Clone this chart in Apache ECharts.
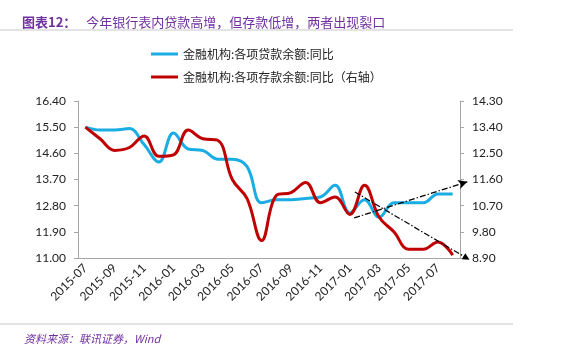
<!DOCTYPE html>
<html>
<head>
<meta charset="utf-8">
<script src="https://cdn.jsdelivr.net/npm/echarts@6/dist/echarts.min.js"></script>
<style>
html, body { margin: 0; padding: 0; background: #fff; }
#main { width: 568px; height: 354px; }
</style>
</head>
<body>
<div id="main"></div>
<script>
var months = ['2015-07','2015-08','2015-09','2015-10','2015-11','2015-12',
  '2016-01','2016-02','2016-03','2016-04','2016-05','2016-06','2016-07','2016-08',
  '2016-09','2016-10','2016-11','2016-12','2017-01','2017-02','2017-03','2017-04',
  '2017-05','2017-06','2017-07','2017-08'];

// 金融机构:各项贷款余额:同比 (left axis)
var loanYoY = [15.5, 15.4, 15.4, 15.45, 14.9, 14.3, 15.3, 14.75, 14.7, 14.4, 14.4, 14.15,
  12.9, 13.0, 13.0, 13.05, 13.1, 13.5, 12.55, 13.0, 12.4, 12.9, 12.9, 12.9, 13.2, 13.2];

// 金融机构:各项存款余额:同比 (right axis)
var depositYoY = [13.4, 13.0, 12.6, 12.7, 13.1, 12.4, 12.45, 13.3, 13.0, 12.95, 11.6, 10.95,
  9.5, 11.05, 11.15, 11.5, 10.8, 11.0, 10.4, 11.4, 10.3, 9.8, 9.2, 9.2, 9.45, 9.0];

var leftTicks = { min: 11.0, max: 16.4, step: 0.9 };
var rightTicks = { min: 8.9, max: 14.3, step: 0.9 };

// hand-drawn trend arrows: [month position from left edge, left-axis value]
var upTrend = [[18.8, 12.38], [26.5, 13.62]];
var downTrend = [[18.85, 13.27], [26.45, 11.0]];

var seriesNames = ['金融机构:各项贷款余额:同比', '金融机构:各项存款余额:同比（右轴）'];

var numFont = 'Lato, "Liberation Sans", sans-serif';
var cjkFont = '"Noto Sans CJK SC", sans-serif';
var purple = '#7030A0';
var axisGray = '#A6A6A6';

var chart = echarts.init(document.getElementById('main'));

chart.setOption({
  backgroundColor: '#fff',
  animation: false,
  title: [{
    left: 17,
    top: 8,
    text: '{b|图表12：}  {n|今年银行表内贷款高增，但存款低增，两者出现裂口}',
    textStyle: {
      rich: {
        b: { fontWeight: 'bold', color: purple, fontSize: 13, fontFamily: cjkFont },
        n: { fontWeight: 'normal', color: purple, fontSize: 13, fontFamily: cjkFont }
      }
    }
  }, {
    left: 19,
    top: 328,
    text: '资料来源：联讯证券，Wind',
    textStyle: { fontStyle: 'italic', fontWeight: 'normal', color: purple, fontSize: 11, fontFamily: cjkFont }
  }],
  graphic: [
    { type: 'line', shape: { x1: 0, y1: 30, x2: 513, y2: 30 }, style: { stroke: '#C8C8C8', lineWidth: 1 } },
    { type: 'line', shape: { x1: 0, y1: 324, x2: 513, y2: 324 }, style: { stroke: '#C8C8C8', lineWidth: 1 } }
  ],
  legend: {
    data: seriesNames,
    orient: 'vertical',
    left: 146,
    top: 43,
    itemGap: 11,
    itemWidth: 27,
    itemHeight: 3,
    icon: 'rect',
    textStyle: { fontSize: 12, color: '#222', fontFamily: cjkFont }
  },
  grid: [
    { left: 78, right: 108, top: 101, bottom: 96 },
    { left: 78, right: 78.7, top: 101, bottom: 96 }
  ],
  xAxis: [{
    type: 'category',
    gridIndex: 0,
    data: months,
    boundaryGap: true,
    axisLine: { lineStyle: { color: axisGray } },
    axisTick: { interval: 1, length: 4, lineStyle: { color: axisGray } },
    axisLabel: { interval: 1, rotate: 45, margin: 8, fontSize: 12, color: '#222', fontFamily: numFont },
    splitLine: { show: false }
  }, {
    type: 'value',
    gridIndex: 1,
    min: 0,
    max: 28,
    show: false
  }],
  yAxis: [{
    type: 'value',
    gridIndex: 0,
    position: 'left',
    min: leftTicks.min,
    max: leftTicks.max,
    interval: leftTicks.step,
    axisLine: { show: true, lineStyle: { color: axisGray } },
    axisTick: { show: true, length: 4, lineStyle: { color: axisGray } },
    axisLabel: { margin: 12, fontSize: 12, color: '#222', fontFamily: numFont,
      formatter: function (v) { return v.toFixed(2); } },
    splitLine: { show: false }
  }, {
    type: 'value',
    gridIndex: 0,
    position: 'right',
    min: rightTicks.min,
    max: rightTicks.max,
    interval: rightTicks.step,
    axisLine: { show: true, lineStyle: { color: axisGray } },
    axisTick: { show: true, length: 4, lineStyle: { color: axisGray } },
    axisLabel: { margin: 12, fontSize: 12, color: '#222', fontFamily: numFont,
      formatter: function (v) { return v.toFixed(2); } },
    splitLine: { show: false }
  }, {
    type: 'value',
    gridIndex: 1,
    min: leftTicks.min,
    max: leftTicks.max,
    show: false
  }],
  series: [{
    name: seriesNames[0],
    type: 'line',
    xAxisIndex: 0,
    yAxisIndex: 0,
    data: loanYoY,
    smooth: 0.4,
    symbol: 'none',
    itemStyle: { color: '#1AADE4' },
    lineStyle: { color: '#1AADE4', width: 3 },
    z: 3
  }, {
    name: seriesNames[1],
    type: 'line',
    xAxisIndex: 0,
    yAxisIndex: 1,
    data: depositYoY,
    smooth: 0.4,
    symbol: 'none',
    itemStyle: { color: '#C00000' },
    lineStyle: { color: '#C00000', width: 3 },
    z: 4
  }, {
    name: 'trend',
    type: 'line',
    xAxisIndex: 1,
    yAxisIndex: 2,
    data: [],
    silent: true,
    z: 5,
    markLine: {
      silent: true,
      label: { show: false },
      emphasis: { disabled: true },
      lineStyle: { color: '#000', width: 1.2, type: [6, 2, 1.5, 2] },
      data: [
        [{ coord: upTrend[0], symbol: 'none' },
         { coord: upTrend[1], symbol: 'arrow', symbolSize: [7, 9] }],
        [{ coord: downTrend[0], symbol: 'none' },
         { coord: downTrend[1], symbol: 'triangle', symbolSize: [7, 7] }]
      ]
    }
  }]
});
</script>
</body>
</html>
